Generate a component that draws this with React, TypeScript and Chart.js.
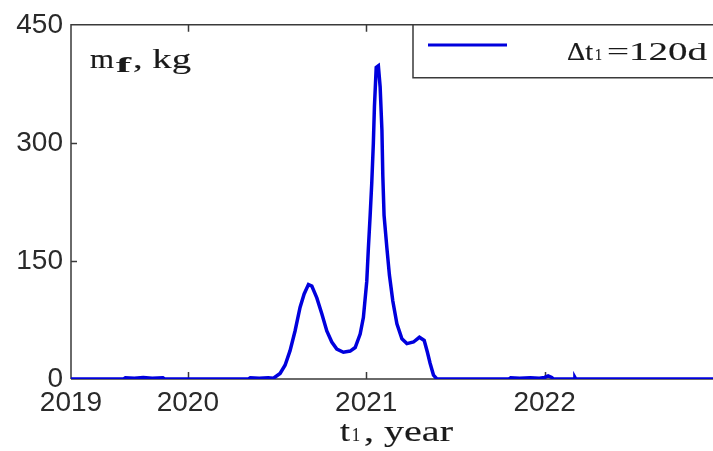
import { useEffect, useRef } from 'react';
import { Chart, registerables } from 'chart.js';

Chart.register(...registerables);

// ---- data ----
const years = [
  2019.345, 2019.64, 2019.65, 2019.70, 2019.75, 2019.80, 2019.86, 2019.87,
  2020.34, 2020.35, 2020.40, 2020.45, 2020.48, 2020.517, 2020.545, 2020.573,
  2020.601, 2020.629, 2020.652, 2020.676, 2020.695, 2020.723, 2020.751, 2020.779,
  2020.807, 2020.835, 2020.872, 2020.91, 2020.938, 2020.966, 2020.984, 2021.003,
  2021.012, 2021.022, 2021.031, 2021.04, 2021.046, 2021.056, 2021.068, 2021.078,
  2021.088, 2021.093, 2021.1, 2021.116, 2021.13, 2021.149, 2021.172, 2021.2,
  2021.228, 2021.265, 2021.298, 2021.325, 2021.343, 2021.358, 2021.377, 2021.396,
  2021.8, 2021.81, 2021.86, 2021.92, 2021.97, 2022.0, 2022.02, 2022.04,
  2022.05, 2022.165, 2022.17, 2022.175, 2023.0,
];
const massKg = [
  0, 0, 1.5, 1, 2, 1, 1.5, 0,
  0, 1.5, 1, 1.5, 1, 7, 17.5, 36,
  61, 91, 108, 120, 118, 103, 83, 61,
  47, 38, 34, 35.5, 40, 57, 78, 124,
  166, 208, 249, 300, 346, 396, 398, 371,
  316, 258, 208, 166, 132, 99, 70, 51,
  45, 47, 53, 49, 34, 20, 5, 0,
  0, 1.5, 1, 1.5, 1, 2, 4, 2,
  0, 0, 2, 0, 0,
];
const xTickValues = [2019.345, 2020, 2021, 2022];
const xTickLabels = ['2019', '2020', '2021', '2022'];
const yTickValues = [0, 150, 300, 450];
const seriesLabel = 'Δt₁=120d';

const SANS = '"Liberation Sans", Arial, sans-serif';
const SERIF = '"Liberation Serif", "Times New Roman", serif';
const BLUE = '#0000dd';
const AXIS = '#3a3a3a';
const TEXT = '#1a1a1a';

function stretchText(ctx: CanvasRenderingContext2D, text: string, font: string, x: number, baseline: number, width: number) {
  ctx.save();
  ctx.font = font;
  ctx.textBaseline = 'alphabetic';
  ctx.textAlign = 'left';
  ctx.fillStyle = TEXT;
  ctx.strokeStyle = TEXT;
  const w = ctx.measureText(text).width || 1;
  const sx = width / w;
  ctx.translate(x, baseline);
  ctx.scale(sx, 1);
  ctx.lineWidth = 0.2 / sx;
  ctx.fillText(text, 0, 0);
  ctx.strokeText(text, 0, 0);
  ctx.restore();
}

const decorPlugin = {
  id: 'decor',
  beforeDatasetsDraw(chart: any) {
    const { ctx, chartArea: a, scales } = chart;
    ctx.save();
    ctx.strokeStyle = AXIS;
    ctx.lineWidth = 1.5;
    ctx.beginPath();
    ctx.moveTo(a.left, a.bottom);
    ctx.lineTo(a.left, a.top);
    ctx.lineTo(a.right, a.top);
    ctx.moveTo(a.left, a.bottom);
    ctx.lineTo(a.right, a.bottom);
    for (const v of xTickValues.slice(1)) {
      const px = Math.round(scales.x.getPixelForValue(v)) + 0.5;
      ctx.moveTo(px, a.top);
      ctx.lineTo(px, a.top + 7);
      ctx.moveTo(px, a.bottom);
      ctx.lineTo(px, a.bottom - 7);
    }
    for (const v of yTickValues.slice(1, -1)) {
      const py = Math.round(scales.y.getPixelForValue(v)) + 0.5;
      ctx.moveTo(a.left, py);
      ctx.lineTo(a.left + 6, py);
    }
    ctx.stroke();
    ctx.restore();
  },
  afterDraw(chart: any) {
    const { ctx, chartArea: a } = chart;
    ctx.save();
    // legend box
    ctx.fillStyle = '#ffffff';
    ctx.fillRect(413, a.top, 330, 53);
    ctx.strokeStyle = AXIS;
    ctx.lineWidth = 1.5;
    ctx.beginPath();
    ctx.moveTo(413, a.top);
    ctx.lineTo(413, a.top + 53);
    ctx.lineTo(740, a.top + 53);
    ctx.moveTo(413, a.top);
    ctx.lineTo(740, a.top);
    ctx.stroke();
    ctx.strokeStyle = BLUE;
    ctx.lineWidth = 3;
    ctx.beginPath();
    ctx.moveTo(428, 45);
    ctx.lineTo(507, 45);
    ctx.stroke();
    const parts = seriesLabel.split('₁');
    stretchText(ctx, parts[0], `26px ${SERIF}`, 567, 60, 26);
    stretchText(ctx, '1', `17px ${SERIF}`, 595, 60, 7);
    stretchText(ctx, parts[1], `26px ${SERIF}`, 607, 60, 100);

    // y axis title inside plot
    stretchText(ctx, 'm', `28px ${SERIF}`, 90, 68, 24);
    stretchText(ctx, 'f', `bold 21px ${SERIF}`, 116, 72, 15);
    stretchText(ctx, ', kg', `28px ${SERIF}`, 133, 68, 58);

    // x axis title
    stretchText(ctx, 't', `30px ${SERIF}`, 340, 441, 10);
    stretchText(ctx, '1', `18px ${SERIF}`, 352, 441, 8);
    stretchText(ctx, ', year', `30px ${SERIF}`, 364, 441, 89);
    ctx.restore();
  },
};

export default function App() {
  const ref = useRef<HTMLCanvasElement | null>(null);
  useEffect(() => {
    if (!ref.current) return;
    const chart = new Chart(ref.current, {
      type: 'line',
      data: {
        datasets: [
          {
            label: seriesLabel,
            data: years.map((x, i) => ({ x, y: massKg[i] })),
            borderColor: BLUE,
            backgroundColor: BLUE,
            borderWidth: 3.5,
            pointRadius: 0,
            tension: 0,
            fill: false,
          },
        ],
      },
      options: {
        responsive: false,
        animation: false,
        layout: { padding: { top: 20, right: 2, left: 0, bottom: 0 } },
        plugins: { legend: { display: false }, tooltip: { enabled: false }, title: { display: false } },
        scales: {
          x: {
            type: 'linear',
            min: 2019.345,
            max: 2023,
            grid: { display: false, drawTicks: false },
            border: { display: false },
            afterBuildTicks: (s: any) => {
              s.ticks = xTickValues.map((v) => ({ value: v }));
            },
            afterFit: (s: any) => {
              s.height = 72;
            },
            ticks: {
              autoSkip: false,
              maxRotation: 0,
              padding: 7,
              color: '#2a2a2a',
              font: { family: SANS, size: 28 },
              callback: (v: any) => {
                const i = xTickValues.indexOf(Number(v));
                return i >= 0 ? xTickLabels[i] : '';
              },
            },
          },
          y: {
            type: 'linear',
            min: 0,
            max: 450,
            grid: { display: false, drawTicks: false },
            border: { display: false },
            afterBuildTicks: (s: any) => {
              s.ticks = yTickValues.map((v) => ({ value: v }));
            },
            afterFit: (s: any) => {
              s.width = 71;
            },
            ticks: {
              padding: 8,
              color: '#2a2a2a',
              font: { family: SANS, size: 28 },
            },
          },
        },
      },
      plugins: [decorPlugin],
    });
    return () => chart.destroy();
  }, []);
  return (
    <div style={{ position: 'absolute', left: 0, top: 0, width: 713, height: 451, overflow: 'hidden', background: '#fff' }}>
      <canvas ref={ref} width={725} height={451} style={{ display: 'block', width: 725, height: 451 }} />
    </div>
  );
}
